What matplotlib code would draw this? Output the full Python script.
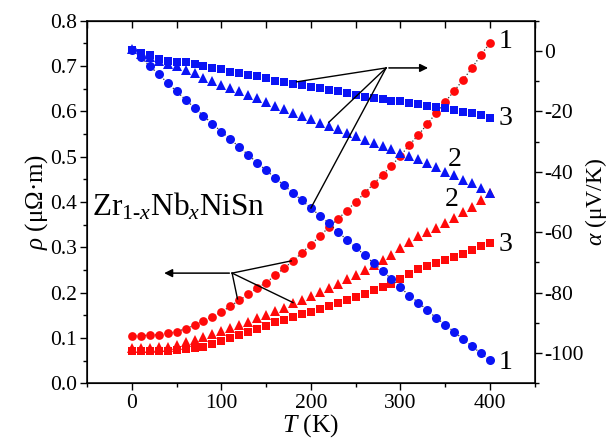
import matplotlib
matplotlib.use("Agg")
import matplotlib.pyplot as plt
import numpy as np
from matplotlib.ticker import MultipleLocator

plt.rcParams["font.family"] = ["Liberation Serif", "DejaVu Serif"]
plt.rcParams["mathtext.fontset"] = "custom"
plt.rcParams["mathtext.rm"] = "Liberation Serif"
plt.rcParams["mathtext.it"] = "Liberation Serif:italic"
plt.rcParams["axes.unicode_minus"] = False

T = np.arange(0, 401, 10)

# resistivity rho (uOhm*m), left axis
rho_1 = [0.105, 0.105, 0.106, 0.107, 0.110, 0.114, 0.120, 0.128, 0.137, 0.147,
         0.157, 0.170, 0.183, 0.196, 0.210, 0.222, 0.238, 0.254, 0.270, 0.288,
         0.306, 0.325, 0.344, 0.362, 0.381, 0.400, 0.420, 0.440, 0.460, 0.480,
         0.502, 0.526, 0.548, 0.572, 0.597, 0.621, 0.645, 0.670, 0.696, 0.725, 0.751]
rho_2 = [0.077, 0.077, 0.078, 0.079, 0.081, 0.085, 0.090, 0.095, 0.101, 0.108,
         0.115, 0.122, 0.129, 0.136, 0.143, 0.151, 0.159, 0.167, 0.176, 0.184,
         0.193, 0.202, 0.211, 0.220, 0.229, 0.239, 0.250, 0.260, 0.271, 0.284,
         0.298, 0.311, 0.325, 0.334, 0.343, 0.354, 0.365, 0.377, 0.389, 0.404, 0.419]
rho_3 = [0.070, 0.070, 0.070, 0.071, 0.072, 0.073, 0.075, 0.078, 0.081, 0.087,
         0.093, 0.100, 0.106, 0.113, 0.120, 0.127, 0.134, 0.140, 0.146, 0.152,
         0.158, 0.164, 0.170, 0.177, 0.183, 0.190, 0.197, 0.205, 0.212, 0.220,
         0.229, 0.240, 0.252, 0.259, 0.265, 0.272, 0.279, 0.286, 0.294, 0.302, 0.309]

# Seebeck coefficient alpha (uV/K), right axis
alpha_1 = [0.5, -2.0, -5.0, -7.7, -10.6, -13.4, -16.1, -18.8, -21.5, -24.1,
           -26.7, -29.2, -31.8, -34.4, -37.0, -39.5, -42.0, -44.5, -47.0, -49.5,
           -52.0, -54.5, -57.0, -59.8, -62.5, -65.0, -67.6, -70.2, -72.8, -75.5,
           -78.3, -81.0, -83.3, -85.8, -88.4, -90.6, -93.0, -95.4, -97.8, -100.1, -102.4]
alpha_2 = [0.6, -1.1, -2.1, -3.4, -4.4, -5.1, -6.4, -7.4, -8.8, -10.0,
           -11.1, -12.1, -13.4, -14.4, -15.4, -16.8, -18.1, -19.1, -20.4, -21.4,
           -22.5, -23.8, -24.8, -25.8, -27.0, -28.1, -29.4, -30.4, -31.5, -32.5,
           -33.8, -34.8, -35.8, -37.1, -38.4, -40.0, -41.1, -42.8, -43.8, -45.5, -47.0]
alpha_3 = [0.5, -0.5, -1.4, -2.5, -3.4, -3.6, -3.8, -4.4, -5.1, -5.5,
           -6.1, -6.8, -7.4, -8.1, -8.4, -9.1, -9.8, -10.4, -10.8, -11.1,
           -11.8, -12.4, -12.8, -13.4, -13.8, -14.4, -15.1, -15.4, -15.8, -16.4,
           -16.4, -17.1, -17.4, -18.1, -18.4, -18.8, -19.4, -20.1, -20.4, -21.1, -22.1]

RED = "#ff0a0a"
BLUE = "#0a14f5"

fig = plt.figure(figsize=(6.09, 4.43), dpi=100)
ax = fig.add_axes([0.143, 0.135, 0.735, 0.818])
ax2 = ax.twinx()

dotted = dict(linestyle=":", color="#333333", linewidth=0.9, markeredgewidth=0)
plain = dict(linestyle="none", markeredgewidth=0)
ax.plot(T, rho_1, marker="o", markersize=6.3, markerfacecolor=RED, **dotted, zorder=3)
ax.plot(T, rho_2, marker="^", markersize=6.6, markerfacecolor=RED, color=RED, **plain, zorder=3)
ax.plot(T, rho_3, marker="s", markersize=5.3, markerfacecolor=RED, color=RED, **plain, zorder=3)
ax2.plot(T, alpha_1, marker="o", markersize=6.5, markerfacecolor=BLUE, **dotted)
ax2.plot(T, alpha_3, marker="s", markersize=5.3, markerfacecolor=BLUE, color=BLUE, **plain)
ax2.plot(T, alpha_2, marker="^", markersize=6.8, markerfacecolor=BLUE, color=BLUE, **plain)

ax.set_xlim(-50, 450)
ax.set_ylim(0.0, 0.8)
ax2.set_ylim(-110, 10)

ax.xaxis.set_major_locator(MultipleLocator(100))
ax.xaxis.set_minor_locator(MultipleLocator(50))
ax.yaxis.set_major_locator(MultipleLocator(0.1))
ax.yaxis.set_minor_locator(MultipleLocator(0.05))
ax2.yaxis.set_major_locator(MultipleLocator(20))
ax2.yaxis.set_minor_locator(MultipleLocator(10))
ax.yaxis.set_major_formatter(plt.FormatStrFormatter("%.1f"))

ax.tick_params(axis="x", which="both", direction="out", top=False, labelsize=15.5, pad=3)
ax.tick_params(axis="y", which="both", direction="out", labelsize=15.5, pad=2)
ax.tick_params(which="major", length=5, width=1)
ax.tick_params(which="minor", length=3, width=1)
ax2.tick_params(axis="y", which="both", direction="out", labelsize=15.5, pad=2)
ax2.tick_params(which="major", length=5, width=1)
ax2.tick_params(which="minor", length=3, width=1)

# inward ticks on top spine
top = ax.secondary_xaxis("top")
top.xaxis.set_major_locator(MultipleLocator(50))
top.tick_params(direction="in", length=5, width=1, labeltop=False)

ax.set_xlabel(r"$T$ (K)", fontsize=18.5, labelpad=-1)
ax.set_ylabel(r"$\rho$ (μΩ·m)", fontsize=18, labelpad=0)
ax2.set_ylabel(r"$\alpha$ (μV/K)", fontsize=17, labelpad=-1)

for sp in ax.spines.values():
    sp.set_linewidth(1.1)

ax.text(-44, 0.39, r"Zr$_{1\text{-}x}$Nb$_x$NiSn", fontsize=22.5, va="center", ha="left")

# curve numbers
ax.text(410, 0.755, "1", fontsize=20, va="center")
ax2.text(410, -22.5, "3", fontsize=20, va="center")
ax2.text(353, -36, "2", fontsize=20, va="center")
ax.text(350, 0.405, "2", fontsize=20, va="center")
ax.text(410, 0.307, "3", fontsize=20, va="center")
ax2.text(410, -103, "1", fontsize=20, va="center")

# pointer lines, right arrow (alpha)
jx, ja = 284, -5.6
ax2.annotate("", xy=(334, ja), xytext=(jx, ja),
             arrowprops=dict(arrowstyle="-|>", color="black", lw=1.1, mutation_scale=12))
for px, pa in [(184, -10.2), (220, -23.6), (200, -52.0)]:
    ax2.plot([jx, px], [ja, pa], color="black", lw=1.0)

# pointer lines, left arrow (rho)
kx, kr = 112, 0.243
ax.annotate("", xy=(33, kr), xytext=(kx, kr),
            arrowprops=dict(arrowstyle="-|>", color="black", lw=1.1, mutation_scale=12))
for px, pr in [(178, 0.270), (118, 0.186), (180, 0.178)]:
    ax.plot([kx, px], [kr, pr], color="black", lw=1.0, zorder=4)

fig.savefig("out.png", dpi=100)
